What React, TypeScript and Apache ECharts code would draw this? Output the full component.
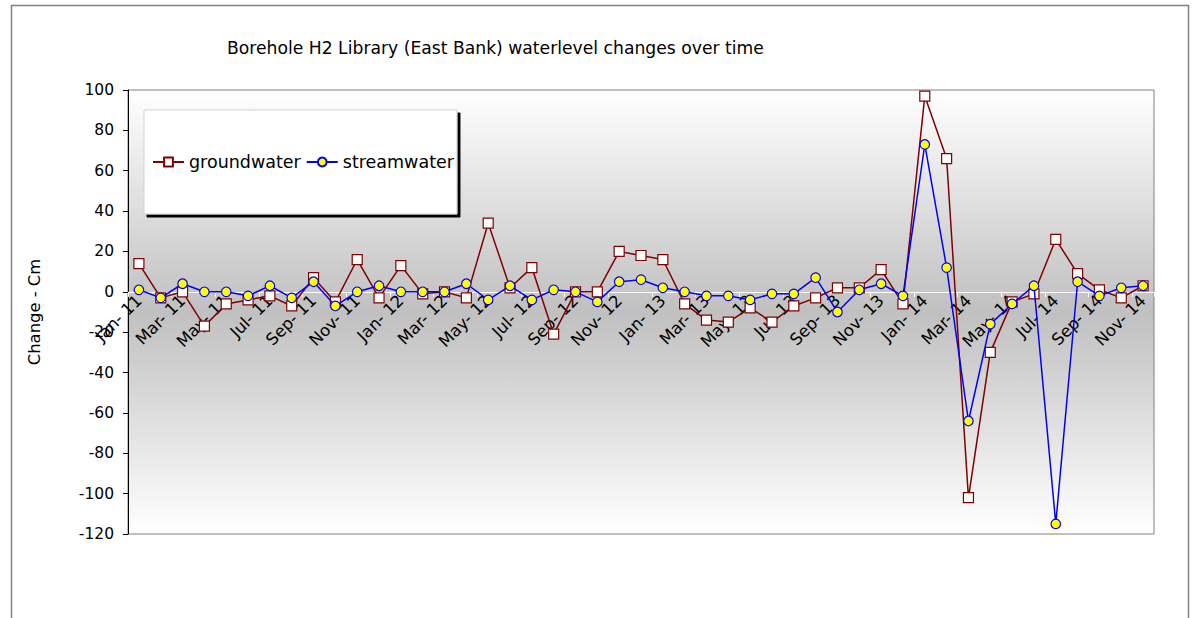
import React, { useEffect, useRef } from "react";
import * as echarts from "echarts";

const monthNames = ["Jan", "Feb", "Mar", "Apr", "May", "Jun", "Jul", "Aug", "Sep", "Oct", "Nov", "Dec"];
const years = ["11", "12", "13", "14"];
const categories: string[] = [];
for (const y of years) for (const m of monthNames) categories.push(`${m}- ${y}`);
categories.length = 47; // Jan-11 .. Nov-14

const groundwater = [
  14, -3, 0, -17, -6, -4, -2, -7, 7, -5, 16, -3,
  13, -1, 0, -3, 34, 2, 12, -21, 0, 0, 20, 18,
  16, -6, -14, -15, -8, -15, -7, -3, 2, 2, 11, -6,
  97, 66, -102, -30, -5, -1, 26, 9, 1, -3, 3,
];

const streamwater = [
  1, -3, 4, 0, 0, -2, 3, -3, 5, -7, 0, 3,
  0, 0, 0, 4, -4, 3, -4, 1, 0, -5, 5, 6,
  2, 0, -2, -2, -4, -1, -1, 7, -10, 1, 4, -2,
  73, 12, -64, -16, -6, 3, -115, 5, -2, 2, 3,
];

const yTicks = { min: -120, max: 100, interval: 20 };

const FONT = "DejaVu Sans";

const GRID_TOP = 90;
const GRID_BOTTOM_Y = 534;

export default function App() {
  const ref = useRef<HTMLDivElement>(null);
  useEffect(() => {
    if (!ref.current) return;
    const chart = echarts.init(ref.current, undefined, { renderer: "svg" });
    const zeroY = GRID_TOP + ((GRID_BOTTOM_Y - GRID_TOP) * yTicks.max) / (yTicks.max - yTicks.min);
    chart.setOption({
      animation: false,
      backgroundColor: "#ffffff",
      textStyle: { fontFamily: FONT },
      title: {
        text: "Borehole H2 Library (East Bank) waterlevel changes over time",
        left: 222,
        top: 34,
        textStyle: { fontFamily: FONT, fontSize: 17.2, fontWeight: "normal", color: "#000" },
      },
      graphic: [
        {
          type: "rect",
          shape: { x: 11.5, y: 5.5, width: 1177, height: 640 },
          style: { fill: "none", stroke: "#808080", lineWidth: 1.5 },
          silent: true,
          z: -1,
        },
      ],
      legend: {
        left: 144,
        top: 110,
        orient: "horizontal",
        backgroundColor: "#ffffff",
        borderColor: "#d0d0d0",
        borderWidth: 1,
        shadowColor: "#000000",
        shadowBlur: 0,
        shadowOffsetX: 3,
        shadowOffsetY: 3,
        padding: [43, 3, 43, 8],
        itemWidth: 31,
        itemHeight: 11,
        itemGap: 5,
        textStyle: { fontFamily: FONT, fontSize: 17.5, color: "#000" },
        data: ["groundwater", "streamwater"],
      },
      grid: {
        left: 128,
        right: 40,
        top: GRID_TOP,
        bottom: 618 - GRID_BOTTOM_Y,
        show: true,
        borderColor: "#808080",
        borderWidth: 1,
        backgroundColor: new echarts.graphic.LinearGradient(0, 0, 0, 1, [
          { offset: 0, color: "#ffffff" },
          { offset: 0.5, color: "#c0c0c0" },
          { offset: 1, color: "#ffffff" },
        ]),
      },
      xAxis: {
        type: "category",
        data: categories,
        boundaryGap: true,
        offset: zeroY - GRID_BOTTOM_Y,
        axisLine: { onZero: false, lineStyle: { color: "#ffffff", width: 1 } },
        axisTick: { show: true, interval: 1, length: 5, lineStyle: { color: "#ffffff" } },
        axisLabel: {
          interval: 1,
          rotate: 45,
          margin: 6,
          color: "#000",
          fontFamily: FONT,
          fontSize: 16.5,
        },
        splitLine: { show: false },
      },
      yAxis: {
        type: "value",
        min: yTicks.min,
        max: yTicks.max,
        interval: yTicks.interval,
        name: "Change - Cm",
        nameLocation: "middle",
        nameRotate: 90,
        nameGap: 86,
        nameTextStyle: { fontFamily: FONT, fontSize: 16.4, color: "#000" },
        axisLine: { show: true, lineStyle: { color: "#000", width: 1 } },
        axisTick: { show: true, length: 5, lineStyle: { color: "#000" } },
        axisLabel: { color: "#000", fontFamily: FONT, fontSize: 15.5, margin: 14 },
        splitLine: { show: false },
      },
      series: [
        {
          name: "groundwater",
          type: "line",
          data: groundwater,
          symbol: "rect",
          symbolSize: 10,
          lineStyle: { color: "#800000", width: 1.5 },
          itemStyle: { color: "#ffffff", borderColor: "#800000", borderWidth: 1.2 },
          color: "#800000",
          z: 2,
        },
        {
          name: "streamwater",
          type: "line",
          data: streamwater,
          symbol: "circle",
          symbolSize: 9.5,
          lineStyle: { color: "#0000ff", width: 1.5 },
          itemStyle: { color: "#ffff00", borderColor: "#0000ff", borderWidth: 1.2 },
          color: "#0000ff",
          z: 3,
        },
      ],
    });
    return () => chart.dispose();
  }, []);
  return (
    <div
      ref={ref}
      style={{ position: "absolute", left: 0, top: 0, width: 1194, height: 618 }}
    />
  );
}
